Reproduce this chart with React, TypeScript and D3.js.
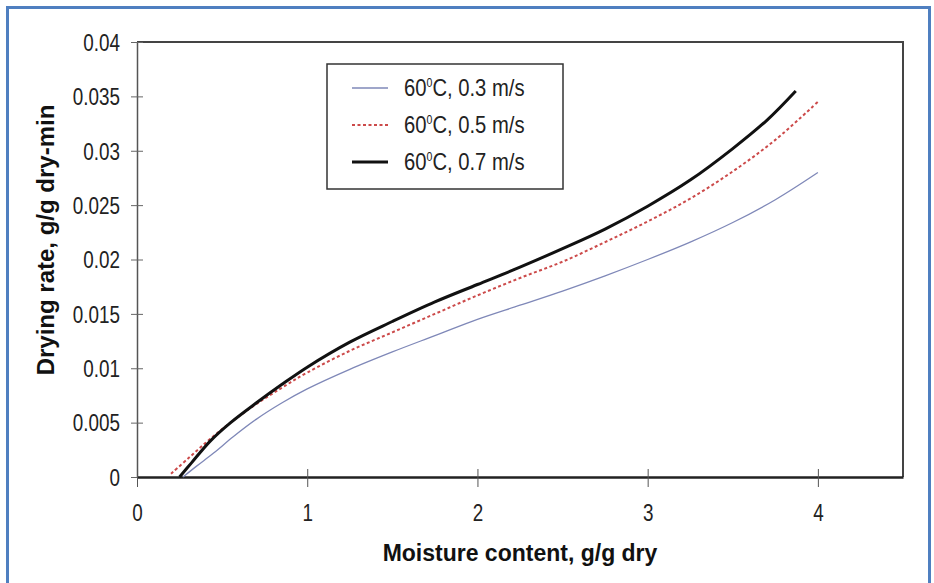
import React, { useEffect, useRef } from 'react';
import * as d3 from 'd3';

// Moisture content (g/g dry) and drying rate (g/g dry-min)
const xSlow = [0.27, 0.35, 0.45, 0.565, 0.7, 0.85, 1.0, 1.25, 1.5, 1.75, 2.0, 2.25, 2.5, 2.75, 3.0, 3.25, 3.5, 3.75, 4.0];
const rateSlow = [0, 0.001, 0.0022, 0.0037, 0.0053, 0.0068, 0.0081, 0.0099, 0.0115, 0.013, 0.0145, 0.0158, 0.0171, 0.0185, 0.02, 0.0216, 0.0234, 0.0255, 0.028];

const xMid = [0.2, 0.3, 0.4, 0.5, 0.6, 0.7, 0.85, 1.0, 1.25, 1.5, 1.75, 2.0, 2.25, 2.5, 2.75, 3.0, 3.25, 3.5, 3.75, 4.0];
const rateMid = [0.0003, 0.0017, 0.0031, 0.0044, 0.0056, 0.0067, 0.0082, 0.0096, 0.0116, 0.0133, 0.015, 0.0167, 0.0183, 0.0198, 0.0216, 0.0235, 0.0256, 0.0281, 0.031, 0.0345];

const xFast = [0.25, 0.32, 0.43, 0.55, 0.7, 0.85, 1.0, 1.25, 1.5, 1.75, 2.0, 2.25, 2.5, 2.75, 3.0, 3.25, 3.5, 3.7, 3.87];
const rateFast = [0, 0.0013, 0.0033, 0.005, 0.0068, 0.0085, 0.0101, 0.0124, 0.0143, 0.0161, 0.0177, 0.0193, 0.021, 0.0228, 0.0249, 0.0273, 0.0302, 0.0328, 0.0355];

const xTicks = [0, 1, 2, 3, 4];
const yTicks = [0, 0.005, 0.01, 0.015, 0.02, 0.025, 0.03, 0.035, 0.04];
const seriesNames = ['0.3 m/s', '0.5 m/s', '0.7 m/s'];

const SANS = "'Liberation Sans', Arial, sans-serif";
const SQUEEZE = 0.82; // no narrow face installed, so squeeze the regular one

const App: React.FC = () => {
  const svgRef = useRef<SVGSVGElement | null>(null);

  useEffect(() => {
    if (!svgRef.current) return;
    const svg = d3.select(svgRef.current);
    svg.selectAll('*').remove();

    const width = 934;
    const height = 583;
    const left = 137;
    const right = 903;
    const top = 42;
    const bottom = 477;

    svg.append('rect').attr('width', width).attr('height', height).attr('fill', '#fff');
    // blue page frame
    svg
      .append('path')
      .attr('d', `M7.5,${height + 5} V7.5 H929.5 V${height + 5}`)
      .attr('fill', 'none')
      .attr('stroke', '#4f7fc0')
      .attr('stroke-width', 3);

    const x = d3.scaleLinear().domain([0, 4.5]).range([left, right]);
    const y = d3.scaleLinear().domain([0, 0.04]).range([bottom, top]);

    // plot frame (top and right)
    svg
      .append('path')
      .attr('d', `M${left},${top} H${right} V${bottom}`)
      .attr('fill', 'none')
      .attr('stroke', '#444')
      .attr('stroke-width', 2);

    // y axis
    const yAxis = d3
      .axisLeft(y)
      .tickValues(yTicks)
      .tickSize(0)
      .tickFormat((d) => String(+d));
    const gy = svg.append('g').attr('transform', `translate(${left},0)`).call(yAxis);
    gy.select('.domain').attr('stroke', '#555').attr('stroke-width', 1.5);
    gy.selectAll('.tick line').remove();
    gy.selectAll('.tick')
      .append('line')
      .attr('x1', -6)
      .attr('x2', 6)
      .attr('stroke', '#666')
      .attr('stroke-width', 1);
    gy.selectAll('.tick text')
      .attr('x', 0)
      .attr('dy', '0.36em')
      .attr('transform', `translate(-17,0) scale(${SQUEEZE},1)`)
      .attr('font-family', SANS)
      .attr('font-size', 23)
      .attr('fill', '#222');

    // x axis
    const xAxis = d3
      .axisBottom(x)
      .tickValues(xTicks)
      .tickSize(0)
      .tickFormat((d) => String(d));
    const gx = svg.append('g').attr('transform', `translate(0,${bottom})`).call(xAxis);
    gx.select('.domain').attr('stroke', '#222').attr('stroke-width', 2.5);
    gx.selectAll('.tick line').remove();
    gx.selectAll('.tick')
      .append('line')
      .attr('y1', -8)
      .attr('y2', 10)
      .attr('stroke', '#555')
      .attr('stroke-width', 1);
    gx.selectAll('.tick text')
      .attr('y', 0)
      .attr('dy', 0)
      .attr('transform', `translate(0,44) scale(${SQUEEZE},1)`)
      .attr('font-family', SANS)
      .attr('font-size', 23)
      .attr('fill', '#222');

    // axis titles
    svg
      .append('text')
      .attr('x', (left + right) / 2)
      .attr('y', 561)
      .attr('text-anchor', 'middle')
      .attr('font-family', SANS)
      .attr('font-weight', 'bold')
      .attr('font-size', 23)
      .attr('fill', '#111')
      .text('Moisture content, g/g dry');

    svg
      .append('text')
      .attr('transform', `translate(54,240) rotate(-90)`)
      .attr('text-anchor', 'middle')
      .attr('font-family', SANS)
      .attr('font-weight', 'bold')
      .attr('font-size', 24)
      .attr('fill', '#111')
      .text('Drying rate, g/g dry-min');

    // curves
    const line = d3
      .line<[number, number]>()
      .x((d) => x(d[0]))
      .y((d) => y(d[1]))
      .curve(d3.curveCatmullRom.alpha(0.5));

    const styles = [
      { stroke: '#7f88b8', width: 1.3, dash: null as string | null },
      { stroke: '#cc4a4a', width: 2, dash: '3 2.5' },
      { stroke: '#111', width: 3, dash: null as string | null },
    ];
    const series: [number, number][][] = [
      xSlow.map((v, i) => [v, rateSlow[i]]),
      xMid.map((v, i) => [v, rateMid[i]]),
      xFast.map((v, i) => [v, rateFast[i]]),
    ];

    series.forEach((pts, i) => {
      const p = svg
        .append('path')
        .datum(pts)
        .attr('d', line)
        .attr('fill', 'none')
        .attr('stroke', styles[i].stroke)
        .attr('stroke-width', styles[i].width);
      if (styles[i].dash) p.attr('stroke-dasharray', styles[i].dash);
    });

    // legend
    const lg = svg.append('g').attr('transform', 'translate(327,64)');
    lg.append('rect')
      .attr('width', 236)
      .attr('height', 125)
      .attr('fill', '#fff')
      .attr('stroke', '#333')
      .attr('stroke-width', 1.5);
    seriesNames.forEach((name, i) => {
      const cy = 24 + i * 37;
      const l = lg
        .append('line')
        .attr('x1', 25)
        .attr('x2', 61)
        .attr('y1', cy)
        .attr('y2', cy)
        .attr('stroke', styles[i].stroke)
        .attr('stroke-width', styles[i].width);
      if (styles[i].dash) l.attr('stroke-dasharray', styles[i].dash);
      const t = lg
        .append('text')
        .attr('transform', `translate(77,${cy + 8}) scale(0.88,1)`)
        .attr('font-family', SANS)
        .attr('font-size', 23)
        .attr('fill', '#222');
      t.append('tspan').text('60');
      t.append('tspan').attr('font-size', 12).attr('dy', -9).text('0');
      t.append('tspan').attr('dy', 9).text(`C, ${name}`);
    });
  }, []);

  return (
    <svg
      ref={svgRef}
      width={934}
      height={583}
      style={{ position: 'absolute', left: 0, top: 0, display: 'block' }}
    />
  );
};

export default App;
